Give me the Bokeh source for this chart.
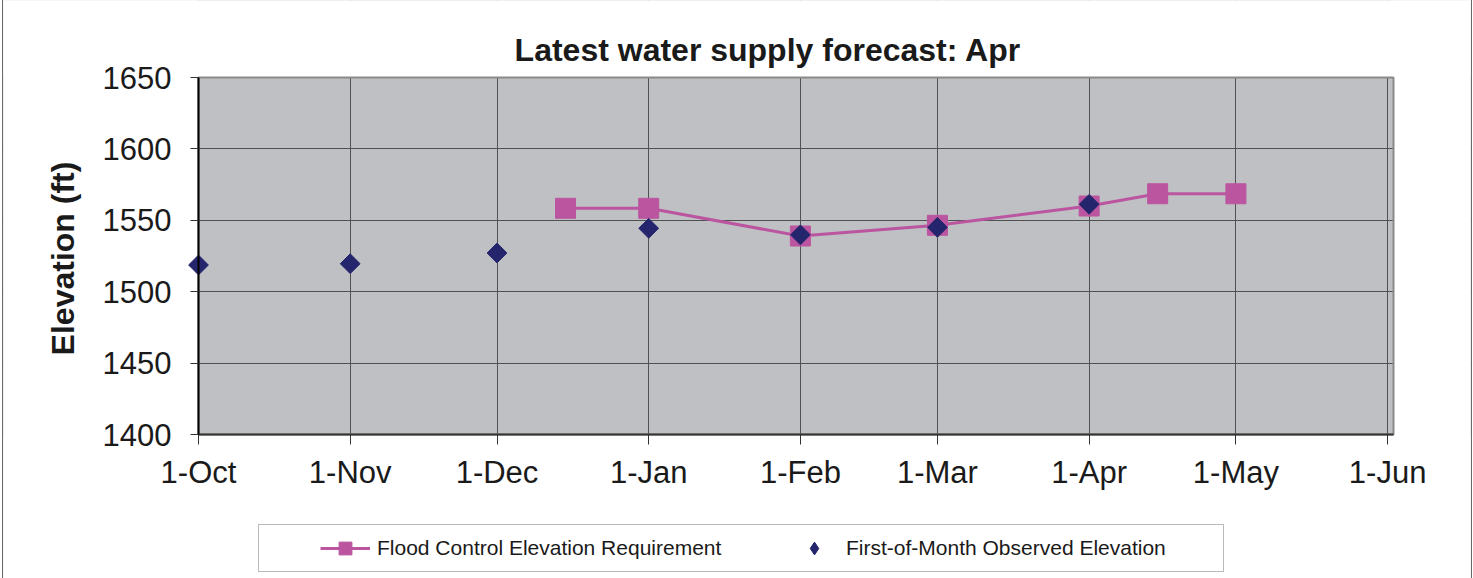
import pandas as pd
from math import pi
from bokeh.plotting import figure
from bokeh.models import (FixedTicker, Legend, LegendItem, Range1d, ColumnDataSource,
                          Label)
from bokeh.embed import file_html
from bokeh.resources import INLINE

# ---- data ----
flood_dates = ["2006-12-15", "2007-01-01", "2007-02-01", "2007-03-01",
               "2007-04-01", "2007-04-15", "2007-05-01"]
flood_elev = [1558.4, 1558.4, 1539.0, 1546.5, 1560.0, 1568.6, 1568.6]

obs_dates = ["2006-10-01", "2006-11-01", "2006-12-01", "2007-01-01",
             "2007-02-01", "2007-03-01", "2007-04-01"]
obs_elev = [1518.7, 1519.6, 1527.1, 1544.4, 1539.8, 1545.1, 1561.2]

tick_dates = ["2006-10-01", "2006-11-01", "2006-12-01", "2007-01-01", "2007-02-01",
              "2007-03-01", "2007-04-01", "2007-05-01", "2007-06-01"]
tick_labels = ["1-Oct", "1-Nov", "1-Dec", "1-Jan", "1-Feb", "1-Mar", "1-Apr",
               "1-May", "1-Jun"]
y_ticks = [1400, 1450, 1500, 1550, 1600, 1650]

title_text = "Latest water supply forecast: Apr"
y_label = "Elevation (ft)"
flood_name = "Flood Control Elevation Requirement"
obs_name = "First-of-Month Observed Elevation"

FONT = "Liberation Sans"
PINK = "#BB55A0"
NAVY = "#25256E"
TXT = "#1a1a1a"
PLOT_BG = "#BFC0C4"

flood_src = ColumnDataSource(dict(x=pd.to_datetime(flood_dates), y=flood_elev))
obs_src = ColumnDataSource(dict(x=pd.to_datetime(obs_dates), y=obs_elev))


def ms(d):
    return int(pd.Timestamp(d).value // 10**6)


tick_ms = [ms(d) for d in tick_dates]
x_start = ms(tick_dates[0])
x_end = ms(tick_dates[-1]) + int(1.2 * 86400000)
y_lo, y_hi = y_ticks[0], y_ticks[-1]

# ---- layout in pixels ----
# The frame covers the whole canvas (except the 3px side borders); the plot
# area (198..1393 x 77..434) is drawn inside it, so nothing gets clipped.
W, H = 1473, 578
F_LEFT, F_RIGHT = 3, W - 3
A_LEFT, A_RIGHT, A_TOP, A_BOTTOM = 198, 1393, 77, 434
kx = (A_RIGHT - A_LEFT) / (x_end - x_start)          # px per ms
ky = (A_BOTTOM - A_TOP) / (y_hi - y_lo)              # px per ft


def px_x(px):
    return x_start + (px - A_LEFT) / kx


def px_y(py):
    return y_lo + (A_BOTTOM - py) / ky


x_lo, x_hi = px_x(F_LEFT), px_x(F_RIGHT)
y_bottom, y_top = px_y(H), px_y(0)

p = figure(width=W, height=H, x_axis_type="datetime", output_backend="svg",
           toolbar_location=None, x_range=Range1d(x_lo, x_hi),
           y_range=Range1d(y_bottom, y_top),
           min_border_left=F_LEFT, min_border_right=W - F_RIGHT,
           min_border_top=0, min_border_bottom=0)
p.styles = {"background-color": "white",
            "box-shadow": "inset 2px 0 0 0 white, inset 3px 0 0 0 #6a6a6a, "
                          "inset -1px 0 0 0 white, inset -2px 0 0 0 #6a6a6a"}

p.background_fill_color = PLOT_BG
p.border_fill_color = None
p.outline_line_color = None

# axes (placed at the edges of the plot area)
for ax in (p.xaxis[0], p.yaxis[0]):
    ax.major_label_text_font = FONT
    ax.major_label_text_font_size = "31px"
    ax.major_label_text_color = TXT
    ax.minor_tick_line_color = None
    ax.major_tick_in = 0
    ax.major_tick_line_color = "#333333"
    ax.major_tick_line_width = 1
    ax.axis_line_width = 2

xa = p.xaxis[0]
xa.ticker = FixedTicker(ticks=tick_ms)
xa.major_label_overrides = {t: lab for t, lab in zip(tick_ms, tick_labels)}
xa.major_tick_out = 10
xa.major_label_standoff = 10
xa.axis_line_color = "#333333"
xa.fixed_location = y_lo
xa.bounds = (x_start, x_end)

ya = p.yaxis[0]
ya.ticker = FixedTicker(ticks=y_ticks)
ya.fixed_location = x_start
ya.bounds = (y_lo, y_hi)
ya.major_tick_out = 8
ya.major_label_standoff = 19
ya.axis_line_color = "black"

for g in (p.xgrid[0], p.ygrid[0]):
    g.grid_line_color = "#505050"
    g.grid_line_width = 1
p.xgrid[0].ticker = FixedTicker(ticks=tick_ms)
p.ygrid[0].ticker = FixedTicker(ticks=y_ticks)

# white surroundings of the plot area (hide grid there) and plot-area border
pad_x = (x_hi - x_lo)
pad_y = (y_top - y_bottom)
far_l, far_r = x_lo - pad_x, x_hi + pad_x
far_b, far_t = y_bottom - pad_y, y_top + pad_y
p.quad(left=far_l, right=x_start, bottom=far_b, top=far_t,
       fill_color="white", line_color=None)
p.quad(left=x_end, right=far_r, bottom=far_b, top=far_t,
       fill_color="white", line_color=None)
p.quad(left=far_l, right=far_r, bottom=far_b, top=y_lo,
       fill_color="white", line_color=None)
p.quad(left=far_l, right=far_r, bottom=y_hi, top=far_t,
       fill_color="white", line_color=None)
p.quad(left=x_start, right=x_end, bottom=y_lo, top=y_hi,
       fill_color=None, line_color="#8a8a8a", line_width=2)

# chart title and y-axis title
p.add_layout(Label(x=px_x(767.5), y=px_y(49), text=title_text,
                   text_align="center", text_baseline="alphabetic",
                   text_font=FONT, text_font_size="32px", text_font_style="bold",
                   text_color=TXT))
p.add_layout(Label(x=px_x(62), y=px_y(258), text=y_label, angle=pi / 2,
                   text_align="center", text_baseline="middle", text_font=FONT,
                   text_font_size="32px", text_font_style="bold", text_color=TXT))

# data glyphs
fl = p.line("x", "y", source=flood_src, line_color=PINK, line_width=3)
fs = p.scatter("x", "y", source=flood_src, marker="square", size=20,
               fill_color=PINK, line_color=PINK)
ob = p.scatter("x", "y", source=obs_src, marker="square", angle=pi / 4, size=14,
               fill_color=NAVY, line_color=NAVY)
# legend symbol for the observed series (diamond, not drawn in the plot)
ob_key = p.scatter("x", "y", source=obs_src, marker="diamond", size=14,
                   fill_color=NAVY, line_color=NAVY, visible=False)

# legend
legend = Legend(items=[LegendItem(label=flood_name, renderers=[fl, fs]),
                       LegendItem(label=obs_name, renderers=[ob_key])],
                orientation="horizontal", location=(258 - F_LEFT, 6), margin=0,
                padding=7, spacing=42, glyph_width=50, glyph_height=32,
                label_standoff=7, label_width=370, label_text_font=FONT,
                label_text_font_size="21px", label_text_color=TXT,
                title=" ", title_location="left", title_standoff=53,
                title_text_font_size="1px",
                border_line_color="#777777", border_line_width=1,
                background_fill_color="white", background_fill_alpha=1)
p.add_layout(legend, "center")

open("out.html", "w").write(file_html(p, INLINE))
